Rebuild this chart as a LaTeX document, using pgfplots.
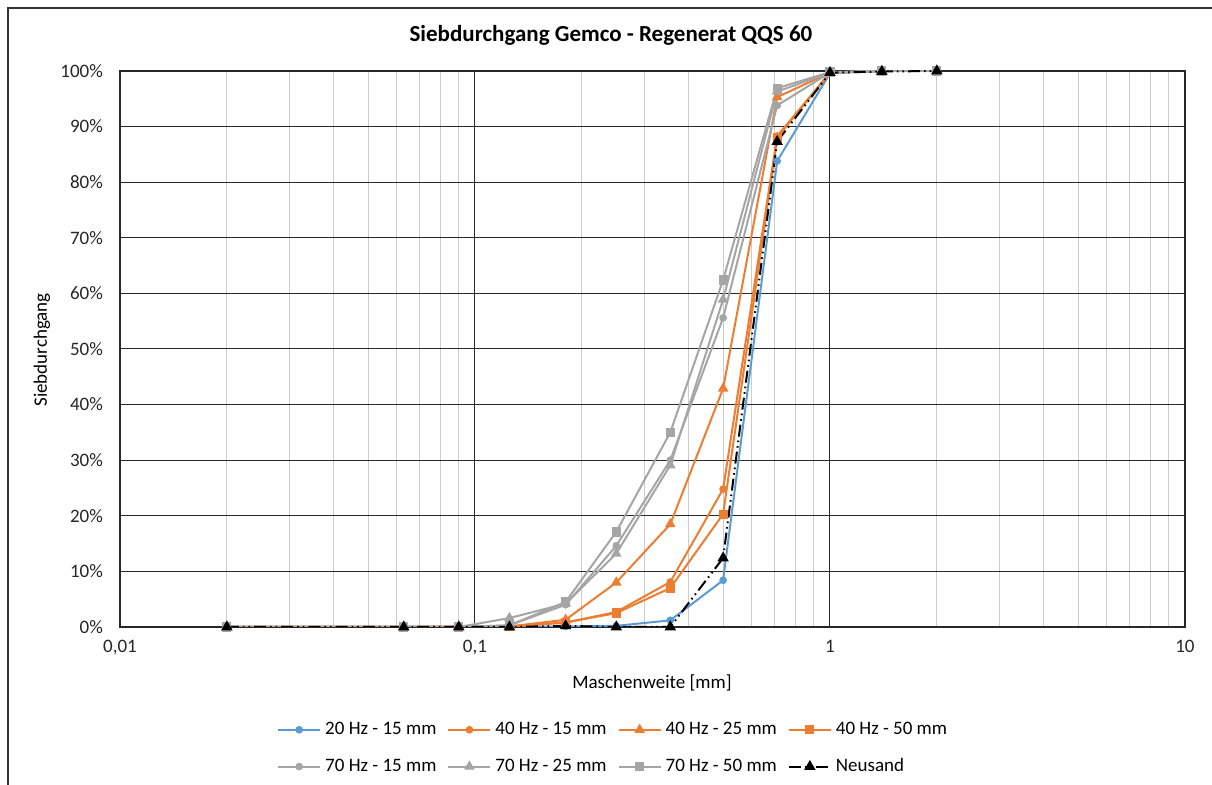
\documentclass[border=0pt]{standalone}
\usepackage{fontspec}
\setmainfont{Carlito}
\usepackage{pgfplots}
\usepackage{pgfplotstable}
\pgfplotsset{compat=1.18}
\definecolor{cblue}{RGB}{91,155,213}
\definecolor{corange}{RGB}{237,125,49}
\definecolor{cgray}{RGB}{165,165,165}
\definecolor{gridminor}{RGB}{204,204,204}
\definecolor{gridmajor}{RGB}{40,40,40}

\pgfplotstableread{
x     a     b     c     d     e     f     g     h
0.02  0     0     0     0     0     0     0     0
0.063 0     0     0     0     0     0     0     0
0.09  0     0.1   0     0     0     0     0     0
0.125 0     0.1   0.1   0.1   0.3   1.6   0.3   0
0.18  0.1   0.8   1.3   0.8   4.0   4.2   4.5   0.2
0.25  0.2   2.7   8.0   2.5   14.6  13.2  17.1  0
0.355 1.2   8.1   18.5  7.0   30.0  29.1  35.0  0
0.5   8.4   24.8  42.9  20.3  55.6  58.9  62.4  12.4
0.71  83.8  88.3  95.3  88.0  93.8  96.3  96.9  87.3
1     99.6  99.7  99.7  99.7  99.7  99.7  99.8  99.7
1.4   100   100   100   100   100   100   100   99.9
2     100   100   100   100   100   100   100   100
}\data

\begin{document}
\begin{tikzpicture}[x=1pt,y=1pt]
\useasboundingbox (0,0) rectangle (606,392.5);
\draw[line width=0.7pt, black!80] (4,-20) rectangle (630,388.5);
\node[font=\bfseries\fontsize{11.5}{13}\selectfont] at (305.5,375) {Siebdurchgang Gemco - Regenerat QQS 60};
\node[font=\fontsize{9.5}{11}\selectfont] at (326,51) {Maschenweite [mm]};
\node[font=\fontsize{9.5}{11}\selectfont, rotate=90] at (21,217.5) {Siebdurchgang};
\begin{axis}[
  at={(60pt,79pt)}, anchor=south west,
  scale only axis, width=532.5pt, height=278pt,
  xmode=log, xmin=0.01, xmax=10, ymin=0, ymax=100,
  xtick={0.01,0.1,1,10}, xticklabels={{0,01},{0,1},1,10},
  minor xtick={0.02,0.03,0.04,0.05,0.06,0.07,0.08,0.09,0.2,0.3,0.4,0.5,0.6,0.7,0.8,0.9,2,3,4,5,6,7,8,9},
  ytick={0,10,...,100},
  yticklabels={0\%,10\%,20\%,30\%,40\%,50\%,60\%,70\%,80\%,90\%,100\%},
  major tick length=0pt, minor tick length=0pt,
  xmajorgrids, ymajorgrids, xminorgrids,
  major grid style={gridmajor, line width=0.5pt},
  minor grid style={gridminor, line width=0.5pt},
  axis line style={gridmajor, line width=0.6pt},
  tick label style={font=\fontsize{9.5}{11}\selectfont, black!85},
  xticklabel style={yshift=-3pt},
  yticklabel style={xshift=-5pt},
  legend columns=4,
  legend style={at={(0.464,-0.156)}, anchor=north, draw=none, fill=none,
    font=\fontsize{9.5}{11}\selectfont, row sep=6.5pt,
    /tikz/every even column/.append style={column sep=3.5pt}},
  legend cell align=left,
  legend image code/.code={\draw[mark repeat=2,mark phase=2] plot coordinates {(0pt,0pt)(10.5pt,0pt)(21pt,0pt)};},
  every axis plot/.append style={line width=1pt},
]
\addplot[cblue, mark=*, mark size=1.4pt, mark options={solid, fill=cblue}] table[x=x,y=a] {\data};
\addlegendentry{20 Hz - 15 mm}
\addplot[corange, mark=*, mark size=1.4pt, mark options={solid, fill=corange}] table[x=x,y=b] {\data};
\addlegendentry{40 Hz - 15 mm}
\addplot[corange, mark=triangle*, mark size=2.1pt, mark options={solid, fill=corange}] table[x=x,y=c] {\data};
\addlegendentry{40 Hz - 25 mm}
\addplot[corange, mark=square*, mark size=1.8pt, mark options={solid, fill=corange}] table[x=x,y=d] {\data};
\addlegendentry{40 Hz - 50 mm}
\addplot[cgray, mark=*, mark size=1.4pt, mark options={solid, fill=cgray}] table[x=x,y=e] {\data};
\addlegendentry{70 Hz - 15 mm}
\addplot[cgray, mark=triangle*, mark size=2.1pt, mark options={solid, fill=cgray}] table[x=x,y=f] {\data};
\addlegendentry{70 Hz - 25 mm}
\addplot[cgray, mark=square*, mark size=1.8pt, mark options={solid, fill=cgray}] table[x=x,y=g] {\data};
\addlegendentry{70 Hz - 50 mm}
\addplot[black, dash pattern=on 6pt off 2pt on 0.8pt off 2pt on 0.8pt off 2pt, mark=triangle*, mark size=2.3pt, mark options={solid, fill=black}] table[x=x,y=h] {\data};
\addlegendentry{Neusand}
\end{axis}
\end{tikzpicture}
\end{document}
